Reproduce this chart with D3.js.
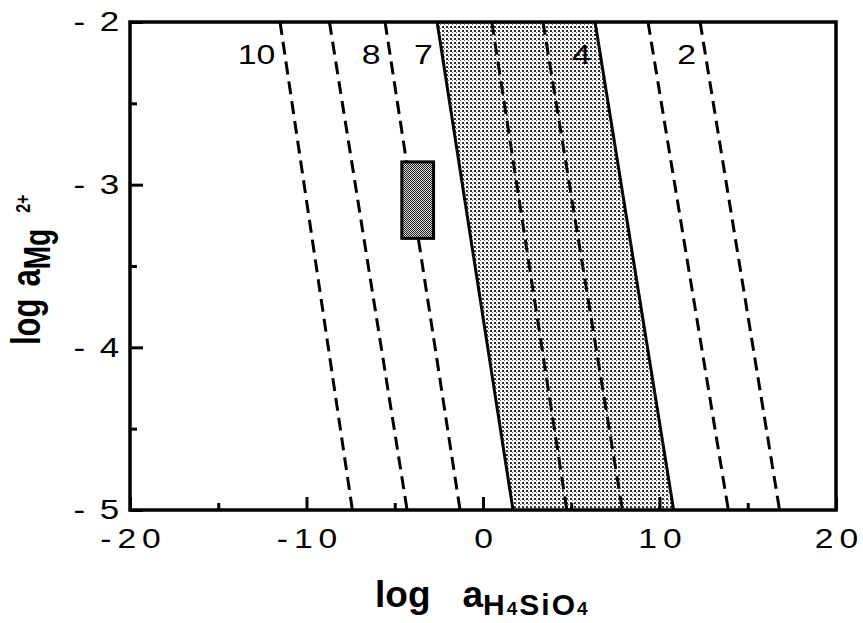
<!DOCTYPE html>
<html>
<head>
<meta charset="utf-8">
<script src="https://cdn.jsdelivr.net/npm/d3@7/dist/d3.min.js"></script>
<style>
  body { margin: 0; background: #fff; }
  #chart { width: 863px; height: 623px; }
  text { font-family: "Liberation Sans", Arial, Helvetica, sans-serif; fill: #000; }
</style>
</head>
<body>
<div id="chart"></div>
<script>
//Ticks de los ejes
const xMajor = [-20, -10, 0, 10, 20];
const xMinor = [-15, -5, 5, 15];
const yMajor = [-2, -3, -4, -5];
const yMinor = [-2.5, -3.5, -4.5];

//Rectas: valor de log aH4SiO4 en log aMg = -2 (arriba) y en -5 (abajo)
const lineTop = [-11.5, -8.7, -5.55, -2.6, 0.5, 3.4, 6.35, 9.35, 12.3];
const lineBottom = [-7.4, -4.3, -1.3, 1.7, 4.75, 7.9, 10.8, 13.9, 16.8];
const lineLabels = ['10', '', '8', '7', '', '', '4', '', '2'];
const boundaryLines = [3, 6];

//Caja de muestras
const boxX = [-4.6, -2.8];
const boxY = [-2.86, -3.33];

let margin = {top: 22, right: 27, bottom: 113, left: 130},
    W = 863, H = 623,
    width = W - margin.left - margin.right,
    height = H - margin.top - margin.bottom;

let svg = d3.select('#chart')
    .append('svg')
    .attr('width', W)
    .attr('height', H);

let defs = svg.append('defs');

//Tramas de puntos
let band = defs.append('pattern')
    .attr('id', 'dots')
    .attr('patternUnits', 'userSpaceOnUse')
    .attr('width', 4).attr('height', 4);
band.append('rect').attr('width', 4).attr('height', 4).attr('fill', '#fff');
band.append('rect').attr('x', 0).attr('y', 0).attr('width', 2).attr('height', 2).attr('fill', '#333');
band.append('rect').attr('x', 2).attr('y', 2).attr('width', 1).attr('height', 1).attr('fill', '#666');

let dense = defs.append('pattern')
    .attr('id', 'dense')
    .attr('patternUnits', 'userSpaceOnUse')
    .attr('width', 2).attr('height', 2);
dense.append('rect').attr('width', 2).attr('height', 2).attr('fill', '#d8d8d8');
dense.append('rect').attr('x', 0).attr('y', 0).attr('width', 1).attr('height', 1).attr('fill', '#222');
dense.append('rect').attr('x', 1).attr('y', 1).attr('width', 1).attr('height', 1).attr('fill', '#222');

let g = svg.append('g')
    .attr('transform', 'translate(' + margin.left + ',' + margin.top + ')');

let x = d3.scaleLinear().domain([-20, 20]).range([0, width]);
let y = d3.scaleLinear().domain([-2, -5]).range([0, height]);

let lines = lineTop.map(function(t, i) {
    return { i: i, pts: [[t, -2], [lineBottom[i], -5]], label: lineLabels[i] };
});

let lineGen = d3.line()
    .x(function(d) { return x(d[0]); })
    .y(function(d) { return y(d[1]); });

//Banda sombreada entre las dos rectas continuas
let a = boundaryLines[0], b = boundaryLines[1];
let bandPts = [[lineTop[a], -2], [lineTop[b], -2], [lineBottom[b], -5], [lineBottom[a], -5]];
g.append('path')
    .attr('d', lineGen(bandPts) + 'Z')
    .attr('fill', 'url(#dots)');

//Rectas
g.selectAll('.ln')
    .data(lines)
    .enter()
    .append('path')
    .attr('class', 'ln')
    .attr('d', function(d) { return lineGen(d.pts); })
    .attr('fill', 'none')
    .attr('stroke', '#000')
    .attr('stroke-width', 3)
    .attr('stroke-dasharray', function(d) { return boundaryLines.indexOf(d.i) >= 0 ? null : '13,7'; });

//Etiquetas de las rectas
let labelY = -2.26;
g.selectAll('.lbl')
    .data(lines.filter(function(d) { return d.label !== ''; }))
    .enter()
    .append('g')
    .attr('class', 'lbl')
    .attr('transform', function(d) {
        let t = (labelY - d.pts[0][1]) / (d.pts[1][1] - d.pts[0][1]);
        let xv = d.pts[0][0] + (d.pts[1][0] - d.pts[0][0]) * t;
        return 'translate(' + (x(xv) - 11) + ',' + y(labelY) + ')';
    })
    .append('text')
    .attr('text-anchor', 'end')
    .attr('font-size', 27)
    .attr('transform', 'scale(1.25,1)')
    .text(function(d) { return d.label; });

//Caja
g.append('rect')
    .attr('x', x(boxX[0]))
    .attr('y', y(boxY[0]))
    .attr('width', x(boxX[1]) - x(boxX[0]))
    .attr('height', y(boxY[1]) - y(boxY[0]))
    .attr('fill', 'url(#dense)')
    .attr('stroke', '#000')
    .attr('stroke-width', 3);

//Ejes
let xAxis = d3.axisBottom(x).tickValues(xMajor).tickSizeInner(-13).tickSizeOuter(0).tickPadding(18)
    .tickFormat(function(d) { return d < 0 ? '-' + Math.abs(d) : String(d); });
let xAxisMinor = d3.axisBottom(x).tickValues(xMinor).tickSizeInner(-7).tickSizeOuter(0).tickFormat('');
let yAxis = d3.axisLeft(y).tickValues(yMajor).tickSizeInner(-13).tickSizeOuter(0).tickPadding(6.6)
    .tickFormat(function(d) { return '- ' + Math.abs(d); });
let yAxisMinor = d3.axisLeft(y).tickValues(yMinor).tickSizeInner(-7).tickSizeOuter(0).tickFormat('');

function styleAxis(sel) {
    sel.select('.domain').remove();
    sel.selectAll('line').attr('stroke', '#000').attr('stroke-width', 3);
    sel.selectAll('text').attr('font-size', 28).attr('font-family', null).attr('fill', '#000');
}

let gx = g.append('g').attr('transform', 'translate(0,' + height + ')').call(xAxis).call(styleAxis);
gx.selectAll('text')
    .attr('letter-spacing', 5)
    .attr('dx', 2.5)
    .attr('transform', 'scale(1.2,1)');
g.append('g').attr('transform', 'translate(0,' + height + ')').call(xAxisMinor).call(styleAxis);

let gy = g.append('g').call(yAxis).call(styleAxis);
gy.selectAll('text')
    .attr('letter-spacing', 2)
    .attr('transform', 'scale(1.25,1)');
g.append('g').call(yAxisMinor).call(styleAxis);

//Marco
g.append('rect')
    .attr('x', 0).attr('y', 0)
    .attr('width', width).attr('height', height)
    .attr('fill', 'none')
    .attr('stroke', '#000')
    .attr('stroke-width', 3.5);

//Titulo eje X
let xt = svg.append('text')
    .attr('x', 375).attr('y', 607)
    .attr('font-weight', 'bold')
    .attr('font-size', 37);
xt.append('tspan').text('log');
xt.append('tspan').attr('dx', 32).text('a');
let sub = xt.append('tspan').attr('dy', 8).attr('letter-spacing', 2);
sub.append('tspan').attr('font-size', 30).text('H');
sub.append('tspan').attr('font-size', 19).text('4');
sub.append('tspan').attr('font-size', 30).text('SiO');
sub.append('tspan').attr('font-size', 19).text('4');

//Titulo eje Y
let yt = svg.append('g')
    .attr('transform', 'translate(40,345) scale(1.3,1) rotate(-90)')
    .append('text')
    .attr('font-weight', 'bold')
    .attr('font-size', 31);
yt.append('tspan').text('log');
yt.append('tspan').attr('dx', 12).text('a');
yt.append('tspan').attr('dy', 8).attr('font-size', 28).text('Mg');
yt.append('tspan').attr('dy', -15.5).attr('dx', 16).attr('font-size', 16).text('2+');
</script>
</body>
</html>
